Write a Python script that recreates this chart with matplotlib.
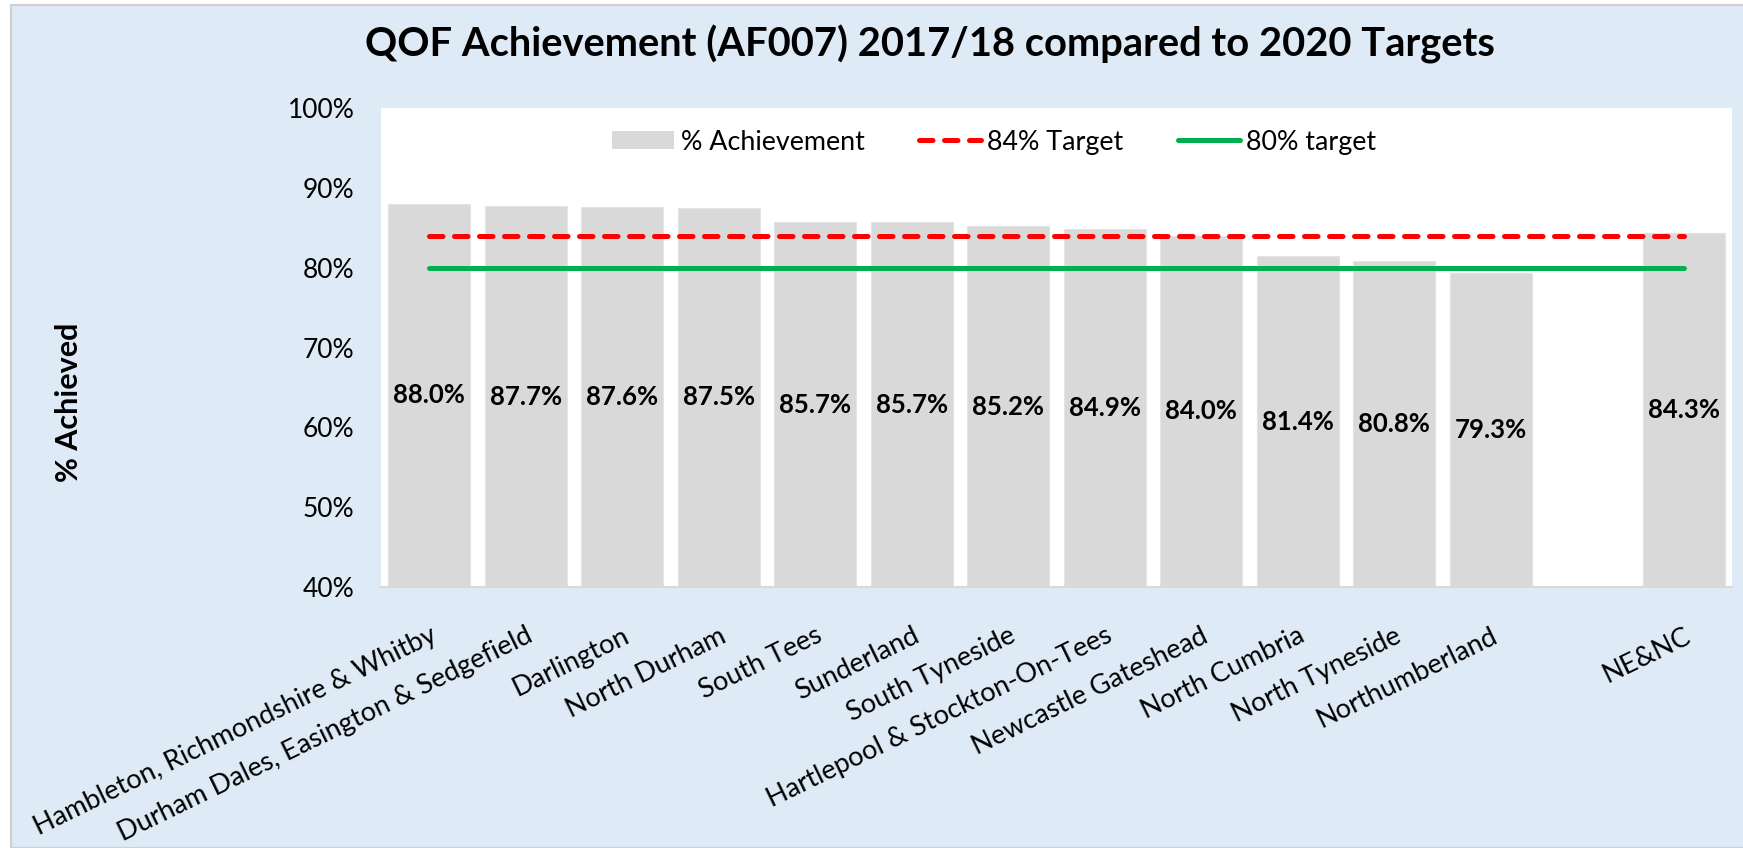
import matplotlib.pyplot as plt
from matplotlib.patches import Rectangle
from matplotlib.lines import Line2D
from matplotlib.patches import Patch
from matplotlib.ticker import FuncFormatter

plt.rcParams["font.family"] = ["Lato", "DejaVu Sans"]

# data (% achieved); one empty slot before the regional total
categories = [
    "Hambleton, Richmondshire & Whitby",
    "Durham Dales, Easington & Sedgefield",
    "Darlington",
    "North Durham",
    "South Tees",
    "Sunderland",
    "South Tyneside",
    "Hartlepool & Stockton-On-Tees",
    "Newcastle Gateshead",
    "North Cumbria",
    "North Tyneside",
    "Northumberland",
    "",
    "NE&NC",
]
achievement = [88.0, 87.7, 87.6, 87.5, 85.7, 85.7, 85.2, 84.9, 84.0, 81.4, 80.8, 79.3, None, 84.3]
target_84 = [84] * len(categories)
target_80 = [80] * len(categories)

BG = "#DEEAF6"
BAR = "#D9D9D9"
RED_DASH = (0, (2.7, 2.3))

fig = plt.figure(figsize=(17.43, 8.48), dpi=100)
fig.patch.set_facecolor("white")
W, H = 1743, 848

# chart area background with thin border
fig.patches.append(
    Rectangle((11 / W, 0), 1.0, 1 - 5 / H, transform=fig.transFigure,
              facecolor=BG, edgecolor="#D0D0D0", linewidth=1.5, zorder=-10)
)

ax = fig.add_axes([381 / W, 1 - 587 / H, (1732 - 381) / W, (587 - 108) / H])
ax.set_zorder(5)
ax.set_facecolor("white")

x = list(range(len(categories)))
bar_x = [i for i, v in zip(x, achievement) if v is not None]
bar_v = [v for v in achievement if v is not None]
ax.bar(bar_x, bar_v, width=0.85, color=BAR, edgecolor="#E4E4E4", linewidth=0.8, zorder=1)

ax.plot(x, target_84, color="#FF0000", linewidth=3.6, linestyle=RED_DASH,
        dash_capstyle="round", zorder=3)
ax.plot(x, target_80, color="#00B050", linewidth=3.6, solid_capstyle="round", zorder=3)

ymin = 40
for xi, v in zip(bar_x, bar_v):
    ax.text(xi, (v + ymin) / 2, f"{v:.1f}%", ha="center", va="center",
            fontsize=18.5, fontweight="bold", color="black", zorder=4)

ax.set_xlim(-0.5, len(categories) - 0.5)
ax.set_ylim(ymin, 100)
ax.set_yticks(range(40, 101, 10))
ax.yaxis.set_major_formatter(FuncFormatter(lambda v, p: f"{v:.0f}%"))
ax.tick_params(axis="y", length=0, pad=19, labelsize=19)
ax.set_xticks(x)
ax.set_xticklabels(categories, rotation=26, ha="right", va="top",
                   rotation_mode="anchor", fontsize=19.5)
ax.tick_params(axis="x", length=0, pad=26)

for s in ["top", "right", "left"]:
    ax.spines[s].set_visible(False)
ax.spines["bottom"].set_color(BAR)
ax.spines["bottom"].set_linewidth(1.5)

handles = [
    Patch(facecolor=BAR, edgecolor="none"),
    Line2D([], [], color="#FF0000", linewidth=3.6, linestyle=RED_DASH, dash_capstyle="round"),
    Line2D([], [], color="#00B050", linewidth=3.6, solid_capstyle="round"),
]
ax.legend(handles, ["% Achievement", "84% Target", "80% target"], loc="center",
          bbox_to_anchor=(0.454, 0.929), ncol=3, frameon=False, fontsize=19.4,
          handlelength=2.3, handleheight=0.65, handletextpad=0.25, columnspacing=2.0)

fig.text(930 / W, 1 - 44 / H, "QOF Achievement (AF007) 2017/18 compared to 2020 Targets",
         ha="center", va="center", fontsize=28.7, fontweight="bold")
fig.text(69 / W, 1 - 402 / H, "% Achieved", rotation=90, ha="center", va="center",
         fontsize=22, fontweight="bold")

fig.savefig("out.png", dpi=100)
